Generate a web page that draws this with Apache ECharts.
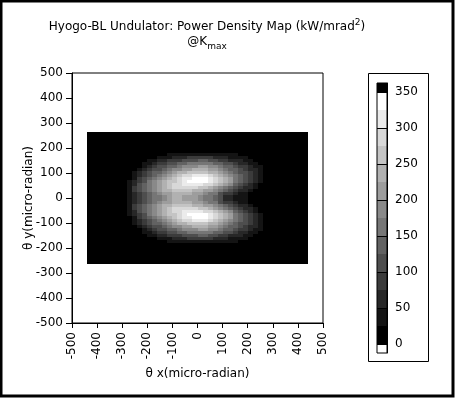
<!DOCTYPE html>
<html><head><meta charset="utf-8">
<script src="https://cdn.jsdelivr.net/npm/echarts@6/dist/echarts.min.js"></script>
<style>html,body{margin:0;padding:0;background:#fff;overflow:hidden}#c{width:455px;height:398px}</style>
</head><body><div id="c"></div>
<script>
// ---- data ----
// cell centres (micro-radian)
const xCenters = [-430,-410,-390,-370,-350,-330,-310,-290,-270,-250,-230,-210,-190,-170,-150,-130,-110,-90,-70,-50,-30,-10,10,30,50,70,90,110,130,150,170,190,210,230,250,270,290,310,330,350,370,390,410,430];
const yCenters = [258,246,234,222,210,198,186,174,162,150,138,126,114,102,90,78,66,54,42,30,18,6,-6,-18,-30,-42,-54,-66,-78,-90,-102,-114,-126,-138,-150,-162,-174,-186,-198,-210,-222,-234,-246,-258];
// power density band per cell (hex digit: 0..d = 25 kW/mrad^2 bands), one string per yCenter
const powerBands = [
"00000000000000000000000000000000000000000000",
"00000000000000000000000000000000000000000000",
"00000000000000000000000000000000000000000000",
"00000000000000000000000000000000000000000000",
"00000000000000000000000000000000000000000000",
"00000000000000000000000000000000000000000000",
"00000000000000000000000000000000000000000000",
"00000000000000001111111111111100000000000000",
"00000000000000111222333332221111000000000000",
"00000000000011223334445544332221100000000000",
"00000000000112334455666665544322110000000000",
"00000000000123445567778877655433211000000000",
"00000000001234456778899988765543221000000000",
"00000000012345567899aaaa99876544321000000000",
"000000000123456789abbcccba987654321000000000",
"00000000013456789abccdddcba98654321000000000",
"0000000012346789aabcddddcba98654321000000000",
"0000000012456789abbccccbba987543210000000000",
"0000000013456789abbbbbaa98765432210000000000",
"00000000134567899aaaa99887654322100000000000",
"00000000123456788999988766433211000000000000",
"00000000123456678998887665422111000000000000",
"00000000123456678998887665422111000000000000",
"00000000123456788999988766433211000000000000",
"00000000134567899aaaa99887654322100000000000",
"0000000013456789abbbbbaa98765432210000000000",
"0000000012456789abbccccbba987543210000000000",
"0000000012346789aabcddddcba98654321000000000",
"00000000013456789abccdddcba98654321000000000",
"000000000123456789abbcccba987654321000000000",
"00000000012345567899aaaa99876544321000000000",
"00000000001234456778899988765543221000000000",
"00000000000123445567778877655433211000000000",
"00000000000112334455666665544322110000000000",
"00000000000011223334445544332221100000000000",
"00000000000000111222333332221111000000000000",
"00000000000000001111111111111100000000000000",
"00000000000000000000000000000000000000000000",
"00000000000000000000000000000000000000000000",
"00000000000000000000000000000000000000000000",
"00000000000000000000000000000000000000000000",
"00000000000000000000000000000000000000000000",
"00000000000000000000000000000000000000000000",
"00000000000000000000000000000000000000000000"
];
// kW/mrad^2 represented by each band index (band middle)
const bandValues = [12.5,37.5,62.5,87.5,112.5,137.5,162.5,187.5,212.5,237.5,262.5,287.5,312.5,337.5];
// colour scale
const bandEdges = [0,25,50,75,100,125,150,175,200,225,250,275,300,325,350];
const bandGrays = ['#000000','#141414','#272727','#3b3b3b','#4e4e4e','#626262','#767676','#898989','#9d9d9d','#b1b1b1','#c4c4c4','#d8d8d8','#ebebeb','#ffffff'];
const underColor = '#ffffff', overColor = '#000000';
const colorbarRange = [-12.5, 362.5];
const colorbarTicks = [0,50,100,150,200,250,300,350];
const cellW = 20, cellH = 12;

// ---- build ----
const heat = [];
for (let i = 0; i < yCenters.length; i++) {
  const row = powerBands[i];
  if (row.length !== xCenters.length) console.error('row ' + i + ' length ' + row.length);
  for (let j = 0; j < xCenters.length; j++) {
    const lv = parseInt(row[j] || '0', 16);
    heat.push([xCenters[j], yCenters[i], bandValues[lv]]);
  }
}
const pieces = [{lt: bandEdges[0], color: underColor}];
for (let k = 0; k < bandGrays.length; k++) pieces.push({gte: bandEdges[k], lt: bandEdges[k+1], color: bandGrays[k]});
pieces.push({gte: bandEdges[bandEdges.length-1], color: overColor});
const cbData = [];
const allEdges = [colorbarRange[0]].concat(bandEdges, [colorbarRange[1]]);
for (let k = 0; k < allEdges.length - 1; k++) cbData.push([allEdges[k], allEdges[k+1], (allEdges[k]+allEdges[k+1])/2]);

const F = 'DejaVu Sans';
const chart = echarts.init(document.getElementById('c'), null, {renderer: 'canvas'});
chart.setOption({
  animation: false,
  backgroundColor: '#ffffff',
  visualMap: {type: 'piecewise', show: false, dimension: 2, seriesIndex: [0, 1], pieces: pieces},
  grid: [
    {left: 72, top: 73, width: 251, height: 250, show: true, borderColor: '#000', borderWidth: 1, z: 5},
    {left: 377, top: 83, width: 10, height: 270, show: true, borderColor: '#000', borderWidth: 1, z: 5}
  ],
  xAxis: [
    {gridIndex: 0, type: 'value', min: -500, max: 500, interval: 100,
     name: 'θ x(micro-radian)', nameLocation: 'middle', nameGap: 45, nameMoveOverlap: false,
     nameTextStyle: {color: '#000', fontFamily: F, fontSize: 12},
     axisLine: {show: true, onZero: false, lineStyle: {color: '#000', width: 1}},
     axisTick: {show: true, length: 5, lineStyle: {color: '#000'}},
     axisLabel: {rotate: 90, margin: 9, color: '#000', fontFamily: F, fontSize: 12},
     splitLine: {show: false}},
    {gridIndex: 1, type: 'value', min: 0, max: 1, show: false}
  ],
  yAxis: [
    {gridIndex: 0, type: 'value', min: -500, max: 500, interval: 100,
     name: 'θ y(micro-radian)', nameLocation: 'middle', nameGap: 37, nameMoveOverlap: false,
     nameTextStyle: {color: '#000', fontFamily: F, fontSize: 12},
     axisLine: {show: true, onZero: false, lineStyle: {color: '#000', width: 1}},
     axisTick: {show: true, length: 6, lineStyle: {color: '#000'}},
     axisLabel: {margin: 9, color: '#000', fontFamily: F, fontSize: 12},
     splitLine: {show: false}},
    {gridIndex: 1, type: 'value', position: 'right', min: colorbarRange[0], max: colorbarRange[1], z: 6,
     axisLine: {show: true, onZero: false, lineStyle: {color: '#000', width: 1}},
     axisTick: {show: true, inside: true, length: 10, customValues: colorbarTicks, lineStyle: {color: '#000'}},
     axisLabel: {customValues: colorbarTicks, margin: 8, color: '#000', fontFamily: F, fontSize: 12},
     splitLine: {show: false}}
  ],
  graphic: [
    {type: 'rect', z: 100, shape: {x: 1, y: 1, width: 452, height: 395}, style: {fill: null, stroke: '#000', lineWidth: 3}},
    {type: 'rect', z: 100, shape: {x: 368.5, y: 73.5, width: 60, height: 288}, style: {fill: null, stroke: '#000', lineWidth: 1}},
    {type: 'text', z: 100, x: 207, y: 27, style: {
      text: '{m|Hyogo-BL Undulator: Power Density Map (kW/mrad}{s|2}{m|)}',
      align: 'center', verticalAlign: 'middle', fill: '#000',
      rich: {m: {fontFamily: F, fontSize: 12, lineHeight: 18, fill: '#000'},
             s: {fontFamily: F, fontSize: 9, lineHeight: 18, verticalAlign: 'top', fill: '#000'}}}},
    {type: 'text', z: 100, x: 207, y: 42, style: {
      text: '{m|@K}{s|max}',
      align: 'center', verticalAlign: 'middle', fill: '#000',
      rich: {m: {fontFamily: F, fontSize: 12, lineHeight: 18, fill: '#000'},
             s: {fontFamily: F, fontSize: 9, lineHeight: 18, verticalAlign: 'bottom', fill: '#000'}}}}
  ],
  series: [
    {type: 'custom', xAxisIndex: 0, yAxisIndex: 0, data: heat, silent: true, encode: {x: 0, y: 1},
     renderItem: function (params, api) {
       const x = api.value(0), y = api.value(1);
       const p0 = api.coord([x - cellW / 2, y + cellH / 2]);
       const p1 = api.coord([x + cellW / 2, y - cellH / 2]);
       const x0 = Math.round(p0[0]), y0 = Math.round(p0[1]), x1 = Math.round(p1[0]), y1 = Math.round(p1[1]);
       return {type: 'rect', shape: {x: x0, y: y0, width: x1 - x0, height: y1 - y0}, style: {fill: api.visual('color')}};
     }},
    {type: 'custom', xAxisIndex: 1, yAxisIndex: 1, data: cbData, silent: true, encode: {y: [0, 1]},
     renderItem: function (params, api) {
       const p0 = api.coord([0, api.value(1)]);
       const p1 = api.coord([1, api.value(0)]);
       const x0 = Math.round(p0[0]), y0 = Math.round(p0[1]), x1 = Math.round(p1[0]), y1 = Math.round(p1[1]);
       return {type: 'rect', shape: {x: x0, y: y0, width: x1 - x0, height: y1 - y0}, style: {fill: api.visual('color')}};
     }}
  ]
});
</script></body></html>
